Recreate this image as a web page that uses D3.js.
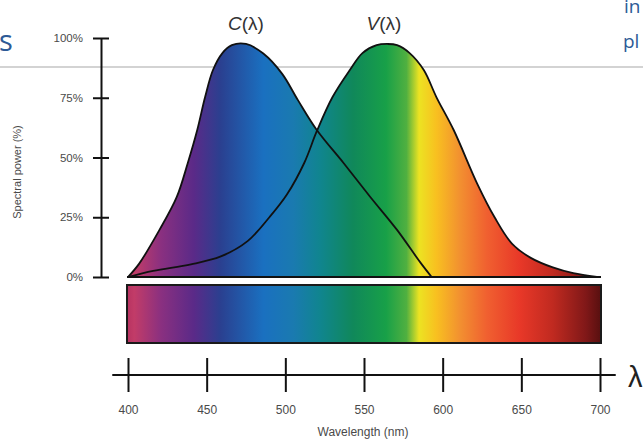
<!DOCTYPE html>
<html>
<head>
<meta charset="utf-8">
<script src="https://cdn.jsdelivr.net/npm/d3@7"></script>
<style>
  body { margin: 0; background: #fff; }
  svg { display: block; }
  .tick text { font-family: "Liberation Sans", Arial, sans-serif; fill: #4a4a4a; }
</style>
</head>
<body>
<svg id="chart" width="643" height="441"></svg>
<script>
// C(lambda) curve, wavelength (nm) / relative power (%)
const cWave  = [400, 407, 420, 431, 438, 444, 449, 454, 460, 466, 475, 486, 498, 508, 520, 537, 554, 571, 586, 593];
const cPower = [0, 5.5, 19.7, 33.5, 47.7, 61.5, 75.3, 86.6, 93.7, 97, 97.5, 93.5, 85, 74, 61.5, 47.7, 33.5, 19.7, 5.9, 0];

// V(lambda) curve
const vWave  = [400, 416, 440, 459, 476, 490, 501, 512, 520, 530, 541, 549, 558, 565, 571, 579, 588, 596, 607, 622, 633, 644, 656, 670, 683, 698];
const vPower = [0, 2.6, 5.3, 8.6, 15, 25.1, 34.5, 47.7, 61, 75.3, 86.6, 93.7, 97, 97.5, 97, 93.7, 86.6, 75.3, 61.5, 39, 25, 14, 8, 4, 1.6, 0];

// spectrum colours
const specWave  = [400, 404, 421, 442, 459, 486, 505, 522, 543, 564, 577, 585, 596, 611, 628, 649, 670, 691, 700];
const specColor = ["#b83462", "#c23c68", "#8a3080", "#5a2a88", "#2a4090", "#1a70c0", "#1a7ab0", "#10858f",
                   "#10885a", "#18a048", "#50b040", "#ece322", "#f8c020", "#f29030", "#f06030", "#e83828",
                   "#c02a20", "#801818", "#5a1010"];

const yTicks = [0, 25, 50, 75, 100];
const xTicks = [400, 450, 500, 550, 600, 650, 700];

const svg = d3.select("#chart");

let x = d3.scaleLinear().domain([400, 700]).range([128, 600]);
let y = d3.scaleLinear().domain([0, 100]).range([277, 38]);

// stuff from the page behind the picture
svg.append("line")
    .attr("x1", 0).attr("x2", 643).attr("y1", 67).attr("y2", 67)
    .attr("stroke", "#c4c4c4").attr("stroke-width", 1.5);
svg.append("text").attr("x", -1).attr("y", 51).text("s")
    .style("font-family", "'Open Sans', sans-serif").style("font-size", "29px").style("fill", "#2d5a96");
svg.append("text").attr("x", 623).attr("y", 48).text("pl")
    .style("font-family", "'Open Sans', sans-serif").style("font-size", "19px").style("fill", "#2d5a96");
svg.append("text").attr("x", 624).attr("y", 13).text("in")
    .style("font-family", "'Open Sans', sans-serif").style("font-size", "19px").style("fill", "#2d5a96");

// gradient
let grad = svg.append("defs").append("linearGradient")
    .attr("id", "spec")
    .attr("gradientUnits", "userSpaceOnUse")
    .attr("x1", x(400)).attr("x2", x(700)).attr("y1", 0).attr("y2", 0);
grad.selectAll("stop")
    .data(specWave)
    .enter().append("stop")
    .attr("offset", d => (d - 400) / 300)
    .attr("stop-color", (d, i) => specColor[i]);

let curve = d3.curveCatmullRom.alpha(0.5);
let area = d3.area().x(d => x(d[0])).y0(y(0)).y1(d => y(d[1])).curve(curve);
let line = d3.line().x(d => x(d[0])).y(d => y(d[1])).curve(curve);

let cData = cWave.map((w, i) => [w, cPower[i]]);
let vData = vWave.map((w, i) => [w, vPower[i]]);

svg.append("path").datum(cData).attr("d", area).attr("fill", "url(#spec)");
svg.append("path").datum(vData).attr("d", area).attr("fill", "url(#spec)");

[cData, vData].forEach(data => {
    svg.append("path").datum(data).attr("d", line)
        .attr("fill", "none").attr("stroke", "#111").attr("stroke-width", 1.8);
});

// baseline under the curves
svg.append("line")
    .attr("x1", x(400) - 1).attr("x2", x(700) + 1)
    .attr("y1", y(0)).attr("y2", y(0))
    .attr("stroke", "#111").attr("stroke-width", 2);

// spectrum bar
svg.append("rect")
    .attr("x", x(400) - 1).attr("y", 285)
    .attr("width", x(700) - x(400) + 2).attr("height", 58)
    .attr("fill", "url(#spec)")
    .attr("stroke", "#1a1a1a").attr("stroke-width", 2);

// y axis
let yAxis = d3.axisLeft(y).tickValues(yTicks).tickFormat(d => d + "%").tickSizeOuter(0).tickSizeInner(8);
let gy = svg.append("g").attr("transform", "translate(101,0)").call(yAxis);
gy.select(".domain").attr("stroke", "#111").attr("stroke-width", 2);
gy.selectAll(".tick line").attr("x1", -8).attr("x2", 8).attr("stroke", "#111").attr("stroke-width", 2);
gy.selectAll(".tick text").attr("x", -18).style("font-size", "11.5px");

svg.append("text")
    .attr("transform", "translate(21,172) rotate(-90)")
    .attr("text-anchor", "middle")
    .style("font-family", "'Liberation Sans', Arial, sans-serif")
    .style("font-size", "11px").style("fill", "#4a4a4a")
    .text("Spectral power (%)");

// x axis
let xAxis = d3.axisBottom(x).tickValues(xTicks).tickSizeOuter(0).tickSizeInner(17);
let gx = svg.append("g").attr("transform", "translate(0,375)").call(xAxis);
gx.select(".domain").remove();
gx.append("line")
    .attr("x1", x(390)).attr("x2", x(710)).attr("y1", 0).attr("y2", 0)
    .attr("stroke", "#111").attr("stroke-width", 2);
gx.selectAll(".tick line").attr("y1", -17).attr("y2", 17).attr("stroke", "#111").attr("stroke-width", 2);
gx.selectAll(".tick text").attr("y", 30).style("font-size", "12px");

svg.append("text")
    .attr("x", 363).attr("y", 436)
    .attr("text-anchor", "middle")
    .style("font-family", "'Liberation Sans', Arial, sans-serif")
    .style("font-size", "12px").style("fill", "#4a4a4a")
    .text("Wavelength (nm)");

svg.append("text")
    .attr("x", 628).attr("y", 387)
    .style("font-family", "'Liberation Sans', Arial, sans-serif")
    .style("font-size", "29px").style("fill", "#222")
    .text("λ");

// curve labels
const labels = [{ name: "C", at: 246 }, { name: "V", at: 384 }];
labels.forEach(l => {
    let t = svg.append("text")
        .attr("x", l.at).attr("y", 30)
        .attr("text-anchor", "middle")
        .style("font-family", "'Liberation Sans', Arial, sans-serif")
        .style("font-size", "19px").style("fill", "#333");
    t.append("tspan").style("font-style", "italic").text(l.name);
    t.append("tspan").text("(λ)");
});
</script>
</body>
</html>
